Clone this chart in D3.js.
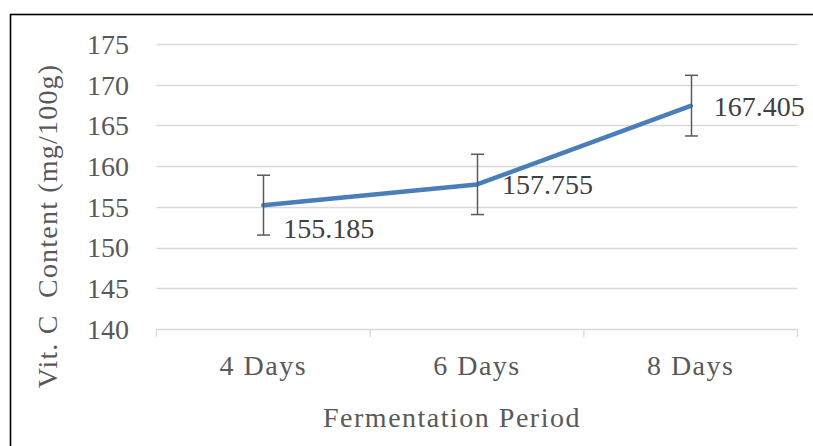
<!DOCTYPE html>
<html>
<head>
<meta charset="utf-8">
<script src="https://cdn.jsdelivr.net/npm/d3@7"></script>
<style>
  html, body { margin: 0; padding: 0; background: #fff; }
</style>
</head>
<body>
<div id="chart"></div>
<script>
// chart data
var categories = ["4 Days", "6 Days", "8 Days"];
var vitC = [155.185, 157.755, 167.405];
var errPlus = [3.7, 3.7, 3.75];
var errMinus = [3.65, 3.7, 3.7];
var yTicks = [140, 145, 150, 155, 160, 165, 170, 175];

// label offsets (layout only)
var labelOffsets = [[20, 33], [25, 10], [23, 10]];

var width = 813, height = 446;
var plotL = 156.5, plotR = 797.5, plotT = 44, plotB = 329;
var serif = "'Liberation Serif', 'Times New Roman', serif";

var svg = d3.select("#chart").append("svg")
  .attr("width", width)
  .attr("height", height)
  .style("font-family", serif);

svg.append("rect")
  .attr("x", 10.5).attr("y", 14.5)
  .attr("width", width + 20).attr("height", height + 20)
  .attr("fill", "#fff")
  .attr("stroke", "#000")
  .attr("stroke-width", 1.6);

var x = d3.scaleBand()
  .domain(categories)
  .range([plotL, plotR])
  .padding(0);

var y = d3.scaleLinear()
  .domain([140, 175])
  .range([plotB, plotT]);

// gridlines
svg.append("g").selectAll("line")
  .data(yTicks.slice(1))
  .enter().append("line")
  .attr("x1", plotL).attr("x2", plotR)
  .attr("y1", function (d) { return Math.round(y(d)) + 0.5; })
  .attr("y2", function (d) { return Math.round(y(d)) + 0.5; })
  .attr("stroke", "#d9d9d9")
  .attr("stroke-width", 1.3);

// y tick labels
svg.append("g").selectAll("text")
  .data(yTicks)
  .enter().append("text")
  .attr("x", 129)
  .attr("y", function (d) { return y(d); })
  .attr("dy", "0.35em")
  .attr("text-anchor", "end")
  .attr("fill", "#595959")
  .style("font-family", serif)
  .style("font-size", "28px")
  .text(function (d) { return d; });

// x axis line and ticks
var xAxis = svg.append("g");
xAxis.append("line")
  .attr("x1", plotL).attr("x2", plotR)
  .attr("y1", plotB + 0.5).attr("y2", plotB + 0.5)
  .attr("stroke", "#d9d9d9").attr("stroke-width", 1.3);

var bounds = categories.map(function (c) { return x(c); }).concat([x(categories[2]) + x.bandwidth()]);
xAxis.selectAll(".tk")
  .data(bounds)
  .enter().append("line")
  .attr("class", "tk")
  .attr("x1", function (d) { return d; }).attr("x2", function (d) { return d; })
  .attr("y1", plotB).attr("y2", plotB + 8)
  .attr("stroke", "#d9d9d9").attr("stroke-width", 1.3);

xAxis.selectAll("text")
  .data(categories)
  .enter().append("text")
  .attr("x", function (d) { return x(d) + x.bandwidth() / 2; })
  .attr("y", 375)
  .attr("text-anchor", "middle")
  .attr("fill", "#595959")
  .style("font-family", serif)
  .style("font-size", "28px")
  .style("letter-spacing", "1.5px")
  .text(function (d) { return d; });

// axis titles
svg.append("text")
  .attr("x", 452)
  .attr("y", 427)
  .attr("text-anchor", "middle")
  .attr("fill", "#595959")
  .style("font-family", serif)
  .style("font-size", "28px")
  .style("letter-spacing", "1.5px")
  .text("Fermentation Period");

svg.append("text")
  .attr("transform", "translate(57,226) rotate(-90)")
  .attr("text-anchor", "middle")
  .attr("fill", "#595959")
  .style("font-family", serif)
  .style("font-size", "28px")
  .style("letter-spacing", "1.2px")
  .style("white-space", "pre")
  .text("Vit. C  Content (mg/100g)");

var cx = function (i) { return x(categories[i]) + x.bandwidth() / 2; };

// line
var line = d3.line()
  .x(function (d, i) { return cx(i); })
  .y(function (d) { return y(d); });

svg.append("path")
  .datum(vitC)
  .attr("d", line)
  .attr("fill", "none")
  .attr("stroke", "#4a7ebb")
  .attr("stroke-width", 4.5)
  .attr("stroke-linecap", "round")
  .attr("stroke-linejoin", "round");

// error bars
var eb = svg.append("g").attr("stroke", "#595959").attr("stroke-width", 1.5);
vitC.forEach(function (v, i) {
  var xi = Math.round(cx(i)) + 0.5;
  var hi = y(v + errPlus[i]), lo = y(v - errMinus[i]);
  eb.append("line").attr("x1", xi).attr("x2", xi).attr("y1", hi).attr("y2", lo);
  eb.append("line").attr("x1", xi - 6.5).attr("x2", xi + 6.5).attr("y1", hi).attr("y2", hi);
  eb.append("line").attr("x1", xi - 6.5).attr("x2", xi + 6.5).attr("y1", lo).attr("y2", lo);
});

// data labels
svg.append("g").selectAll("text")
  .data(vitC)
  .enter().append("text")
  .attr("x", function (d, i) { return cx(i) + labelOffsets[i][0]; })
  .attr("y", function (d, i) { return y(d) + labelOffsets[i][1]; })
  .attr("fill", "#404040")
  .style("font-family", serif)
  .style("font-size", "28px")
  .text(function (d) { return d3.format(".3f")(d); });
</script>
</body>
</html>
